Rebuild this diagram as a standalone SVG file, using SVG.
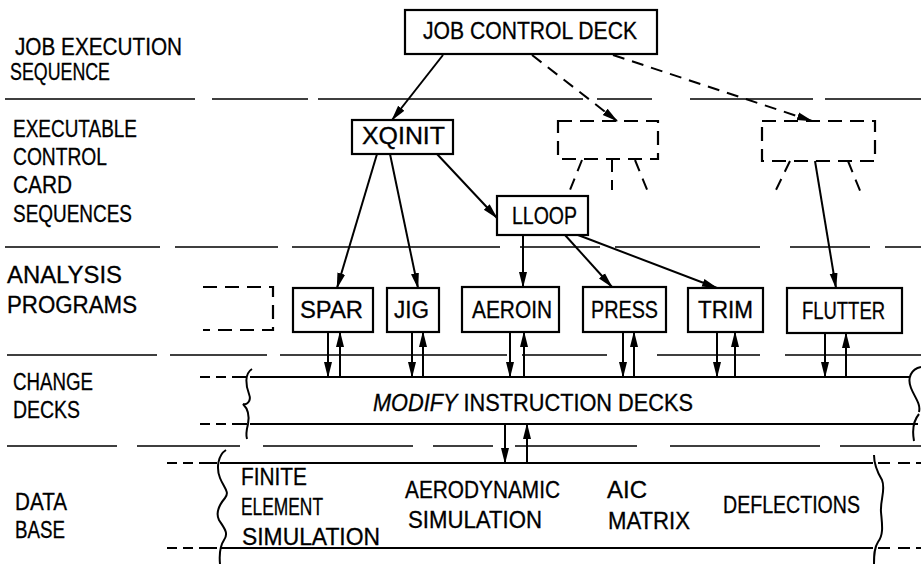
<svg xmlns="http://www.w3.org/2000/svg" width="921" height="564" viewBox="0 0 921 564">
<style>
text{font-family:"Liberation Sans",Arial,sans-serif;font-size:23px;fill:#000;stroke:#000;stroke-width:0.3}
.box{fill:#fff;stroke:#000;stroke-width:2.2}
.dbox{fill:none;stroke:#000;stroke-width:2.2;stroke-dasharray:14 8}
.sep{fill:none;stroke:#000;stroke-width:1.6}
.ln{fill:none;stroke:#000;stroke-width:2}
.dl{fill:none;stroke:#000;stroke-width:2;stroke-dasharray:12 8}
.band{fill:none;stroke:#000;stroke-width:2}
</style>
<defs>
<marker id="ah" markerWidth="16" markerHeight="10" refX="15" refY="5" orient="auto" markerUnits="userSpaceOnUse"><path d="M0,1 L16,5 L0,9 Z" fill="#000"/></marker>
</defs>

<g id="separators">
<path class="sep" d="M5,99H195M212,99H308M318,99H583M597,99H652M690,99H813M825,99H921"/>
<path class="sep" d="M5,247H160M175,247H278M292,247H500M520,247H600M615,247H760M790,247H870M885,247H921"/>
<path class="sep" d="M7,355H157M170,355H267M280,355H507M522,355H607M657,355H760M785,355H921"/>
<path class="sep" d="M7,446H117M137,446H240M263,446H413M433,446H493M515,446H637M670,446H820M840,446H921"/>
</g>

<g id="row-labels">
<text x="15" y="55" textLength="167" lengthAdjust="spacingAndGlyphs">JOB EXECUTION</text>
<text x="10" y="80" textLength="100" lengthAdjust="spacingAndGlyphs">SEQUENCE</text>
<text x="13" y="137" textLength="124" lengthAdjust="spacingAndGlyphs">EXECUTABLE</text>
<text x="13" y="165" textLength="94" lengthAdjust="spacingAndGlyphs">CONTROL</text>
<text x="13" y="193" textLength="59" lengthAdjust="spacingAndGlyphs">CARD</text>
<text x="13" y="222" textLength="119" lengthAdjust="spacingAndGlyphs">SEQUENCES</text>
<text x="7" y="283" textLength="115" lengthAdjust="spacingAndGlyphs">ANALYSIS</text>
<text x="7" y="313" textLength="130" lengthAdjust="spacingAndGlyphs">PROGRAMS</text>
<text x="13" y="390" textLength="80" lengthAdjust="spacingAndGlyphs">CHANGE</text>
<text x="13" y="418" textLength="67" lengthAdjust="spacingAndGlyphs">DECKS</text>
<text x="15" y="510" textLength="52" lengthAdjust="spacingAndGlyphs">DATA</text>
<text x="15" y="538" textLength="50" lengthAdjust="spacingAndGlyphs">BASE</text>
</g>

<g id="job-control-deck">
<rect class="box" x="405" y="10" width="252" height="44"/>
<text x="423" y="39" textLength="214" lengthAdjust="spacingAndGlyphs">JOB CONTROL DECK</text>
</g>
<g id="xqinit">
<rect class="box" x="352" y="120" width="101" height="34"/>
<text x="362" y="144" textLength="83" lengthAdjust="spacingAndGlyphs">XQINIT</text>
</g>
<g id="seq-placeholder-1">
<rect class="dbox" x="558" y="121" width="100" height="38"/>
<path class="dl" d="M582,160L570,190M612,160L612,190M635,160L648,192"/>
</g>
<g id="seq-placeholder-2">
<rect class="dbox" x="762" y="121" width="113" height="40"/>
<path class="dl" d="M790,161L775,192M848,161L863,198"/>
</g>
<g id="lloop">
<rect class="box" x="497" y="196" width="91" height="39"/>
<text x="512" y="224" textLength="65" lengthAdjust="spacingAndGlyphs">LLOOP</text>
</g>
<g id="program-placeholder">
<path class="dbox" d="M203,287H273V330H203"/>
</g>
<g id="spar">
<rect class="box" x="293" y="288" width="80" height="44"/>
<text x="300" y="318" textLength="63" lengthAdjust="spacingAndGlyphs">SPAR</text>
</g>
<g id="jig">
<rect class="box" x="387" y="288" width="52" height="44"/>
<text x="394" y="318" textLength="35" lengthAdjust="spacingAndGlyphs">JIG</text>
</g>
<g id="aeroin">
<rect class="box" x="462" y="287" width="97" height="45"/>
<text x="472" y="318" textLength="80" lengthAdjust="spacingAndGlyphs">AEROIN</text>
</g>
<g id="press">
<rect class="box" x="583" y="287" width="83" height="45"/>
<text x="591" y="318" textLength="67" lengthAdjust="spacingAndGlyphs">PRESS</text>
</g>
<g id="trim">
<rect class="box" x="688" y="288" width="75" height="44"/>
<text x="698" y="318" textLength="55" lengthAdjust="spacingAndGlyphs">TRIM</text>
</g>
<g id="flutter">
<rect class="box" x="787" y="288" width="115" height="45"/>
<text x="802" y="319" textLength="83" lengthAdjust="spacingAndGlyphs">FLUTTER</text>
</g>

<g id="change-decks">
<path class="band" d="M250,377H910M250,424H918"/>
<path class="band" d="M200,377H210M216,377H226M232,377H247M200,424H210M216,424H226M232,424H247"/>
<path class="band" d="M252,369C244,374 246,386 249,394C252,402 246,405 243,404C247,408 250,414 248,424C246,432 246,436 247,439"/>
<path class="band" d="M921,367C911,369 907,378 911,388C915,398 921,404 919,412M919,414C914,420 912,430 914,441"/>
<text x="373" y="411" textLength="320" lengthAdjust="spacingAndGlyphs"><tspan font-style="italic">MODIFY</tspan> INSTRUCTION DECKS</text>
</g>

<g id="data-base">
<path class="band" d="M220,463H873M220,548H873"/>
<path class="band" d="M167,463H177M183,463H193M199,463H217M167,548H177M183,548H193M199,548H217M878,463H890M898,463H910M916,463H921M878,548H890M898,548H910M916,548H921"/>
<path class="band" d="M226,450C218,455 216,468 220,478C224,488 230,492 225,498C220,504 215,512 219,520C224,528 229,533 224,540C220,546 219,553 220,564"/>
<path class="band" d="M874,455C874,462 876,470 882,480C886,490 880,500 881,512C882,524 884,534 878,542C874,548 874,556 874,564"/>
<text x="241" y="485" textLength="66" lengthAdjust="spacingAndGlyphs">FINITE</text>
<text x="241" y="515" textLength="82" lengthAdjust="spacingAndGlyphs">ELEMENT</text>
<text x="242" y="545" textLength="138" lengthAdjust="spacingAndGlyphs">SIMULATION</text>
<text x="405" y="498" textLength="155" lengthAdjust="spacingAndGlyphs">AERODYNAMIC</text>
<text x="408" y="528" textLength="134" lengthAdjust="spacingAndGlyphs">SIMULATION</text>
<text x="607" y="498" textLength="40" lengthAdjust="spacingAndGlyphs">AIC</text>
<text x="608" y="529" textLength="82" lengthAdjust="spacingAndGlyphs">MATRIX</text>
<text x="723" y="513" textLength="137" lengthAdjust="spacingAndGlyphs">DEFLECTIONS</text>
</g>

<g id="connectors">
<path class="ln" marker-end="url(#ah)" d="M443,55L392,120"/>
<path class="dl" marker-end="url(#ah)" d="M532,55L617,121"/>
<path class="dl" marker-end="url(#ah)" d="M613,55L812,121"/>
<path class="ln" marker-end="url(#ah)" d="M377,154L337,288"/>
<path class="ln" marker-end="url(#ah)" d="M390,154L418,288"/>
<path class="ln" marker-end="url(#ah)" d="M437,154L497,218"/>
<path class="ln" marker-end="url(#ah)" d="M523,235L523,287"/>
<path class="ln" marker-end="url(#ah)" d="M565,235L612,287"/>
<path class="ln" marker-end="url(#ah)" d="M578,235L717,288"/>
<path class="ln" marker-end="url(#ah)" d="M815,161L836,288"/>
<path class="ln" marker-end="url(#ah)" d="M328,332V377"/>
<path class="ln" marker-end="url(#ah)" d="M340,377V332"/>
<path class="ln" marker-end="url(#ah)" d="M412,332V377"/>
<path class="ln" marker-end="url(#ah)" d="M423,377V332"/>
<path class="ln" marker-end="url(#ah)" d="M510,332V377"/>
<path class="ln" marker-end="url(#ah)" d="M524,377V332"/>
<path class="ln" marker-end="url(#ah)" d="M623,332V377"/>
<path class="ln" marker-end="url(#ah)" d="M634,377V332"/>
<path class="ln" marker-end="url(#ah)" d="M717,332V377"/>
<path class="ln" marker-end="url(#ah)" d="M735,377V332"/>
<path class="ln" marker-end="url(#ah)" d="M825,333V377"/>
<path class="ln" marker-end="url(#ah)" d="M846,377V333"/>
<path class="ln" marker-end="url(#ah)" d="M505,424V463"/>
<path class="ln" marker-end="url(#ah)" d="M527,463V424"/>
</g>
</svg>
